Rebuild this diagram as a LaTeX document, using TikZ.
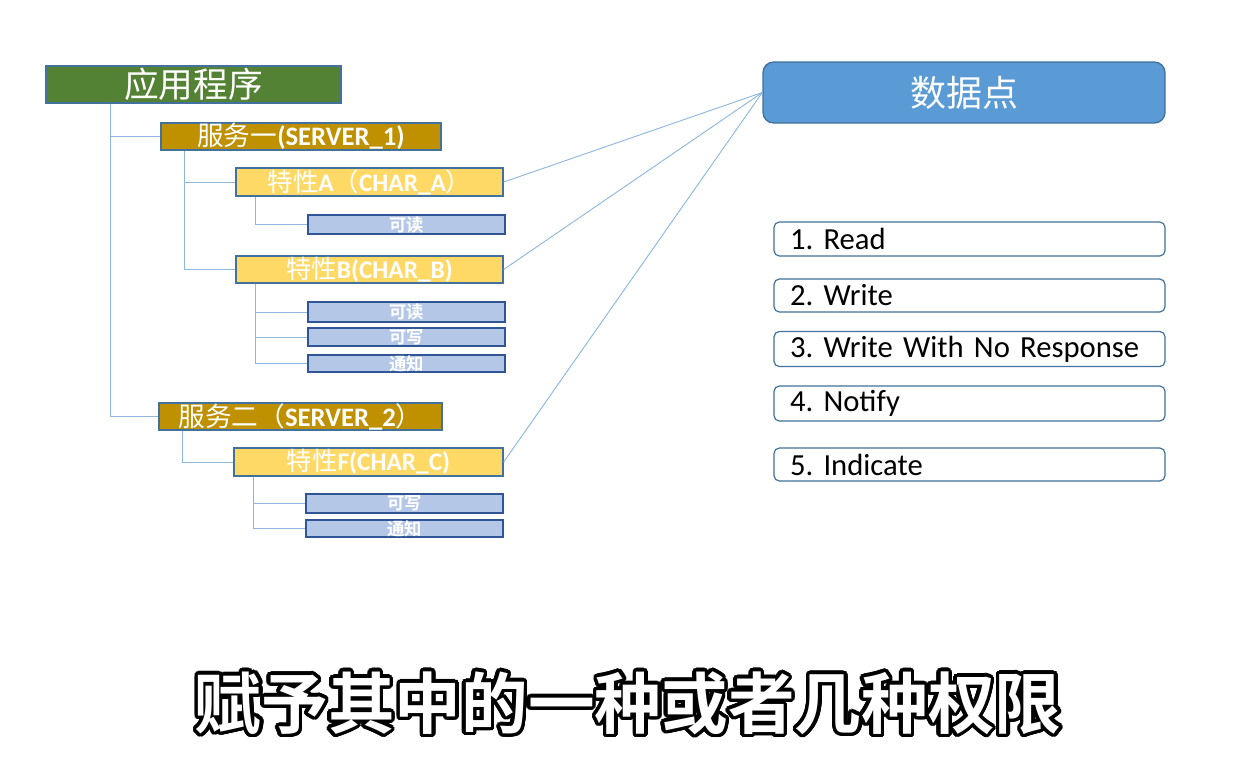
\documentclass[tikz,border=0pt]{standalone}
\usepackage{fontspec}
\setmainfont{Carlito}
\newfontfamily\cjk{Noto Sans CJK SC}
\newfontfamily\cjkb{Noto Sans CJK SC}[BoldFont={Noto Sans CJK SC Bold}]
\usepackage[copies]{contour}
\contourlength{2.6pt}
\contournumber{32}
\usetikzlibrary{calc}
\frenchspacing
\definecolor{appgreen}{HTML}{548235}
\definecolor{srvgold}{HTML}{BF9000}
\definecolor{chryel}{HTML}{FFD966}
\definecolor{perblue}{HTML}{B4C7E7}
\definecolor{edgeblue}{HTML}{41719C}
\definecolor{darkedge}{HTML}{2F5597}
\definecolor{linkblue}{HTML}{8FB8DE}
\definecolor{dpblue}{HTML}{5B9BD5}
\newcommand{\zh}[1]{{\cjk\mdseries #1}}
\newcommand{\zhb}[1]{{\cjkb\bfseries #1}}
\begin{document}
\begin{tikzpicture}[x=0.75pt,y=-0.75pt,
  box/.style={draw=edgeblue,line width=1pt,inner sep=0pt,text=white},
  appbox/.style={box,fill=appgreen,font=\fontsize{26}{26}\selectfont},
  srvbox/.style={box,fill=srvgold,font=\fontsize{20}{20}\selectfont\bfseries},
  chrbox/.style={box,fill=chryel,font=\fontsize{19}{19}\selectfont\bfseries},
  perbox/.style={box,draw=darkedge,fill=perblue,font=\fontsize{13}{13}\selectfont},
  listbox/.style={draw=edgeblue,line width=0.9pt,rounded corners=4pt,fill=white,
    minimum width=293.25pt,text width=269.25pt,inner xsep=12pt,align=left,
    font=\fontsize{23}{23}\selectfont,text=black},
  tree/.style={draw=linkblue,line width=0.7pt},
  link/.style={draw=linkblue,line width=0.7pt}]
\useasboundingbox (0,0) rectangle (1259,761);
\fill[white] (0,0) rectangle (1259,761);

% tree nodes
\node[appbox,minimum width=221.25pt,minimum height=27.75pt] (app) at (193.5,84.5) {\zh{应用程序}};
\node[srvbox,minimum width=210pt,minimum height=20.25pt] (s1) at (301,136.5) {\zh{服务一}(SERVER\_1)};
\node[chrbox,minimum width=200.25pt,minimum height=21pt] (ca) at (369.5,182) {\zh{特性}A\zh{（}CHAR\_A\zh{）}};
\node[perbox,minimum width=147.75pt,minimum height=14.25pt] (ca1) at (406.5,224.5) {\zhb{可读}};
\node[chrbox,minimum width=200.25pt,minimum height=20.25pt] (cb) at (369.5,269.5) {\zh{特性}B(CHAR\_B)};
\node[perbox,minimum width=147.75pt,minimum height=15pt] (cb1) at (406.5,312) {\zhb{可读}};
\node[perbox,minimum width=147.75pt,minimum height=13.5pt] (cb2) at (406.5,337) {\zhb{可写}};
\node[perbox,minimum width=147.75pt,minimum height=12.75pt] (cb3) at (406.5,363.5) {\zhb{通知}};
\node[srvbox,minimum width=212.25pt,minimum height=20.25pt] (s2) at (300.5,416.5) {\zh{服务二（}SERVER\_2\zh{）}};
\node[chrbox,minimum width=201.75pt,minimum height=21pt] (cf) at (368.5,462) {\zh{特性}F(CHAR\_C)};
\node[perbox,minimum width=147.75pt,minimum height=14.25pt] (cf1) at (404.5,503.5) {\zhb{可写}};
\node[perbox,minimum width=147.75pt,minimum height=12.75pt] (cf2) at (404.5,528.5) {\zhb{通知}};

% tree connectors
\draw[tree] ($(app.south west)+(65,0)$) |- (s1.west);
\draw[tree] ($(app.south west)+(65,0)$) |- (s2.west);
\draw[tree] ($(s1.south west)+(24,0)$) |- (ca.west);
\draw[tree] ($(s1.south west)+(24,0)$) |- (cb.west);
\draw[tree] ($(ca.south west)+(20,0)$) |- (ca1.west);
\draw[tree] ($(cb.south west)+(20,0)$) |- (cb1.west);
\draw[tree] ($(cb.south west)+(20,0)$) |- (cb2.west);
\draw[tree] ($(cb.south west)+(20,0)$) |- (cb3.west);
\draw[tree] ($(s2.south west)+(24,0)$) |- (cf.west);
\draw[tree] ($(cf.south west)+(20,0)$) |- (cf1.west);
\draw[tree] ($(cf.south west)+(20,0)$) |- (cf2.west);

% data point
\node[draw=edgeblue,line width=1pt,fill=dpblue,rounded corners=8pt,
  minimum width=301.5pt,minimum height=45.75pt,text=white,
  font=\cjk\fontsize{27}{27}\selectfont] (dp) at (964,92.5) {数据点};

\draw[link] (ca.east) -- (dp.west);
\draw[link] (cb.east) -- (dp.west);
\draw[link] (cf.east) -- (dp.west);

% permission list
\node[listbox,minimum height=25.5pt] (p1) at (969.5,239) {1. Read};
\node[listbox,minimum height=24.75pt] (p2) at (969.5,295.5) {2. Write};
\node[listbox,minimum height=25.5pt] (p3) at (969.5,349) {3. Write With No Response};
\node[listbox,minimum height=24.75pt] (p4) at (969.5,403.5) {4. Notify};
\node[listbox,minimum height=24.75pt] (p5) at (969.5,464.5) {5. Indicate};

% subtitle
\node[font=\cjkb\bfseries\fontsize{50}{50}\selectfont] (sub) at (628,705)
  {\contour{black}{\textcolor{white}{赋予其中的一种或者几种权限}}};
\end{tikzpicture}
\end{document}
